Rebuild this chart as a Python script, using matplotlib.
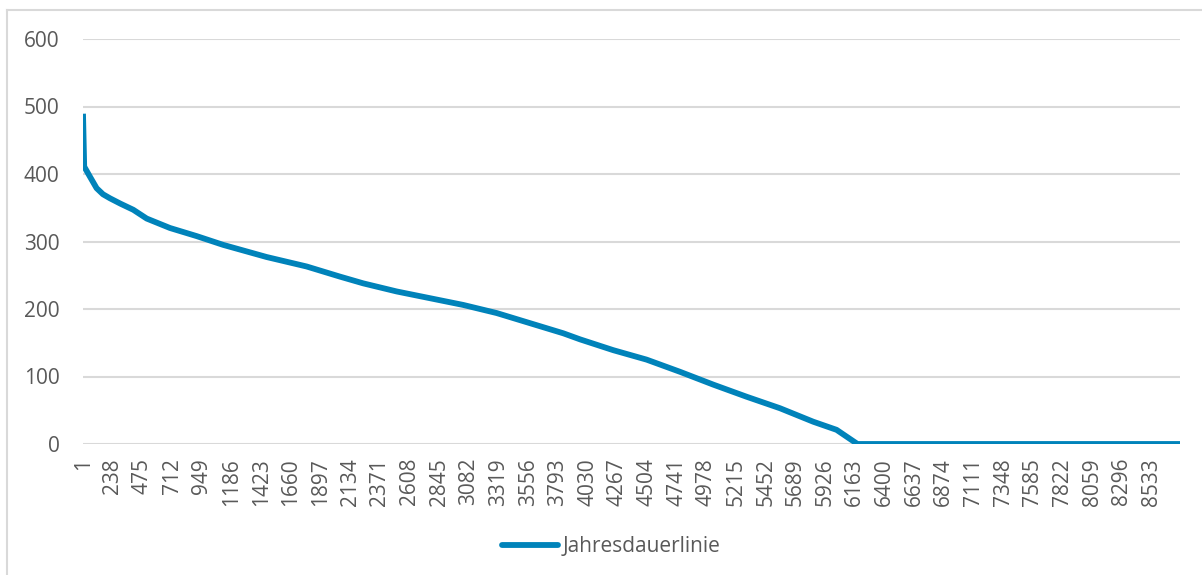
import matplotlib
matplotlib.use("Agg")
import matplotlib.pyplot as plt
from matplotlib.lines import Line2D

# hours of the year (sorted load duration curve)
hours = [1, 10, 56, 109, 160, 216, 300, 402, 509, 695, 908, 1120, 1467, 1786, 2052,
         2238, 2505, 2771, 3037, 3304, 3570, 3836, 3970, 4235, 4501, 4767,
         5033, 5300, 5566, 5832, 6018, 6185, 8760]
values = [485, 411, 396, 379, 370, 364, 356, 347, 334, 320, 308, 295, 277, 263, 248,
          238, 226, 216, 206, 194, 179, 164, 155, 139, 125, 107,
          88, 70, 53, 33, 21, 0, 0]

tick_hours = list(range(1, 8761, 237))
y_ticks = [0, 100, 200, 300, 400, 500, 600]
series_name = "Jahresdauerlinie"

LINE_COLOR = "#0083BA"
TEXT_COLOR = "#595959"
GRID_COLOR = "#D9D9D9"


def main():
	plt.rcParams['font.family'] = ['Open Sans', 'DejaVu Sans']
	fig = plt.figure(figsize=(12.02, 5.75), dpi=100)
	ax = fig.add_axes([83 / 1202, 131 / 575, 1097 / 1202, 405 / 575])

	ax.plot(hours, values, color=LINE_COLOR, lw=4.2, solid_joinstyle='round',
		label=series_name)

	ax.set_xlim(0.5, 8760.5)
	ax.set_ylim(0, 600)
	ax.set_yticks(y_ticks)
	ax.set_xticks(tick_hours)
	ax.set_xticklabels([str(h) for h in tick_hours], rotation=90)

	ax.grid(axis='y', color=GRID_COLOR, lw=1.5)
	ax.set_axisbelow(True)
	for s in ax.spines.values():
		s.set_visible(False)
	ax.tick_params(axis='both', length=0, labelsize=15, labelcolor=TEXT_COLOR)
	ax.tick_params(axis='x', pad=10)
	ax.tick_params(axis='y', pad=17)

	# legend below the plot
	handle = Line2D([], [], color=LINE_COLOR, lw=4.2, solid_capstyle='round')
	fig.legend([handle], [series_name], loc='center',
		bbox_to_anchor=(611 / 1202, 1 - 547 / 575), frameon=False,
		fontsize=15, labelcolor=TEXT_COLOR, handlelength=2.7,
		handletextpad=0.2, borderpad=0)

	# light chart-area border (left and top visible)
	fig.add_artist(Line2D([7 / 1202, 7 / 1202], [0, 1 - 10 / 575],
		transform=fig.transFigure, color=GRID_COLOR, lw=1.5))
	fig.add_artist(Line2D([7 / 1202, 1], [1 - 10 / 575, 1 - 10 / 575],
		transform=fig.transFigure, color=GRID_COLOR, lw=1.5))

	fig.savefig("out.png", dpi=100)


if __name__ == '__main__':
	main()
